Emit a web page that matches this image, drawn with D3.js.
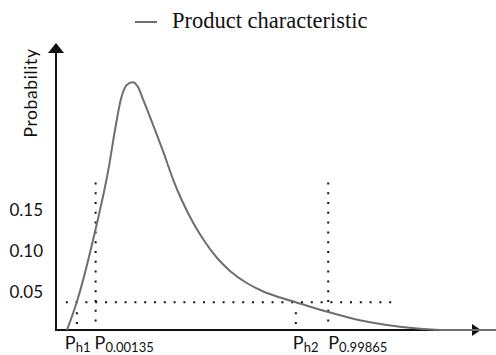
<!DOCTYPE html>
<html>
<head>
<meta charset="utf-8">
<script src="https://cdn.jsdelivr.net/npm/d3@7"></script>
<style>
  html, body { margin: 0; padding: 0; background: #fff; }
  svg { display: block; }
</style>
</head>
<body>
<svg id="chart" width="496" height="355"></svg>
<script>
// Density curve of the product characteristic (x in characteristic units, y = probability)
const curveX = [0.258, 0.486, 0.915, 1.228, 1.385, 1.519, 1.660, 1.796, 1.925, 2.049, 2.324, 2.519, 2.754, 2.951, 3.223, 3.498, 3.772, 4.085, 4.477, 4.866, 5.258, 5.610, 6.432, 6.979, 7.763, 8.545, 9.171, 10.33];
const curveY = [0, 0.0338, 0.1199, 0.1951, 0.2439, 0.2805, 0.2988, 0.3021, 0.2963, 0.2805, 0.2439, 0.2171, 0.1829, 0.1585, 0.1305, 0.1073, 0.0884, 0.0720, 0.0573, 0.0470, 0.0396, 0.0341, 0.0213, 0.0137, 0.0061, 0.0015, 0, 0];

// Y tick labels
const yTicks = [0.05, 0.10, 0.15];

// Quantile markers (full-height dotted lines)
const quantileNames = ["0.00135", "0.99865"];
const quantileX = [0.93, 6.39];
const quantileTop = 0.18;

// Level markers where the curve crosses the reference probability
const levelNames = ["h1", "h2"];
const levelX = [0.49, 5.63];
const levelY = 0.0338;
const levelSpan = [0.23, 8.05];

const legendLabel = "Product characteristic";
const yLabel = "Probability";

const svg = d3.select("#chart");
const x = d3.scaleLinear().domain([0, 10]).range([56, 482]);
const y = d3.scaleLinear().domain([0, 0.35]).range([330, 43]);

const ink = "#111";
const curveColor = "#6e6e6e";
const sans = "Lato, 'Open Sans', sans-serif";

// Reference level (horizontal dotted)
const dotted = { stroke: ink, width: 2, dash: "2,7.8" };
svg.append("line")
  .attr("x1", x(levelSpan[0])).attr("x2", x(levelSpan[1]))
  .attr("y1", y(levelY)).attr("y2", y(levelY))
  .attr("stroke", dotted.stroke).attr("stroke-width", dotted.width)
  .attr("stroke-dasharray", dotted.dash);

// Level crossing verticals
svg.selectAll(".lvl").data(levelX).join("line")
  .attr("class", "lvl")
  .attr("x1", d => x(d)).attr("x2", d => x(d))
  .attr("y1", y(levelY) + 10).attr("y2", y(0))
  .attr("stroke", dotted.stroke).attr("stroke-width", dotted.width)
  .attr("stroke-dasharray", dotted.dash);

// Quantile verticals
svg.selectAll(".q").data(quantileX).join("line")
  .attr("class", "q")
  .attr("x1", d => x(d)).attr("x2", d => x(d))
  .attr("y1", y(quantileTop)).attr("y2", y(0))
  .attr("stroke", dotted.stroke).attr("stroke-width", dotted.width)
  .attr("stroke-dasharray", dotted.dash);

// Axes with arrowheads
const tipX = x(10) - 1;
svg.append("line")
  .attr("x1", x(0)).attr("x2", x(0))
  .attr("y1", y(0) + 1).attr("y2", y(0.35) + 6)
  .attr("stroke", ink).attr("stroke-width", 2);
svg.append("line")
  .attr("x1", x(0) - 1).attr("x2", tipX - 6)
  .attr("y1", y(0)).attr("y2", y(0))
  .attr("stroke", ink).attr("stroke-width", 2);
svg.append("path")
  .attr("d", `M${x(0)},${y(0.35)} L${x(0) - 8},${y(0.35) + 10} L${x(0) + 8},${y(0.35) + 10} Z`)
  .attr("fill", ink);
svg.append("path")
  .attr("d", `M${tipX},${y(0)} L${tipX - 9},${y(0) - 6} L${tipX - 9},${y(0) + 6} Z`)
  .attr("fill", ink);

// Density curve
const pts = curveX.map((v, i) => [v, curveY[i]]);
svg.append("path")
  .datum(pts)
  .attr("fill", "none")
  .attr("stroke", curveColor)
  .attr("stroke-width", 2)
  .attr("d", d3.line().x(d => x(d[0])).y(d => y(d[1])).curve(d3.curveMonotoneX));

// Y tick labels
svg.selectAll(".yt").data(yTicks).join("text")
  .attr("class", "yt")
  .attr("x", 43).attr("y", d => y(d) + 3)
  .attr("dy", "0.35em")
  .attr("text-anchor", "end")
  .attr("font-family", sans).attr("font-size", 17)
  .attr("fill", ink)
  .text(d => d.toFixed(2));

// Y axis title
svg.append("text")
  .attr("transform", `translate(37,93) rotate(-90)`)
  .attr("text-anchor", "middle")
  .attr("font-family", sans).attr("font-size", 17.5)
  .attr("letter-spacing", 0.6)
  .attr("fill", ink)
  .text(yLabel);

// Bottom marker labels: P with subscript
function pLabel(xpos, sub) {
  const t = svg.append("text")
    .attr("x", xpos).attr("y", 349)
    .attr("font-family", sans).attr("font-size", 18)
    .attr("fill", ink);
  t.append("tspan").text("P");
  t.append("tspan").attr("font-size", 13).attr("dy", 3).text(sub);
}
pLabel(x(levelX[0]) - 12, levelNames[0]);
pLabel(x(quantileX[0]) - 1, quantileNames[0]);
pLabel(x(levelX[1]) - 3, levelNames[1]);
pLabel(x(quantileX[1]), quantileNames[1]);

// Legend
svg.append("line")
  .attr("x1", 135).attr("x2", 157).attr("y1", 22).attr("y2", 22)
  .attr("stroke", curveColor).attr("stroke-width", 2);
svg.append("text")
  .attr("x", 172).attr("y", 28)
  .attr("font-family", "'Liberation Serif', 'DejaVu Serif', serif")
  .attr("font-size", 22.5)
  .attr("fill", ink)
  .text(legendLabel);
</script>
</body>
</html>
